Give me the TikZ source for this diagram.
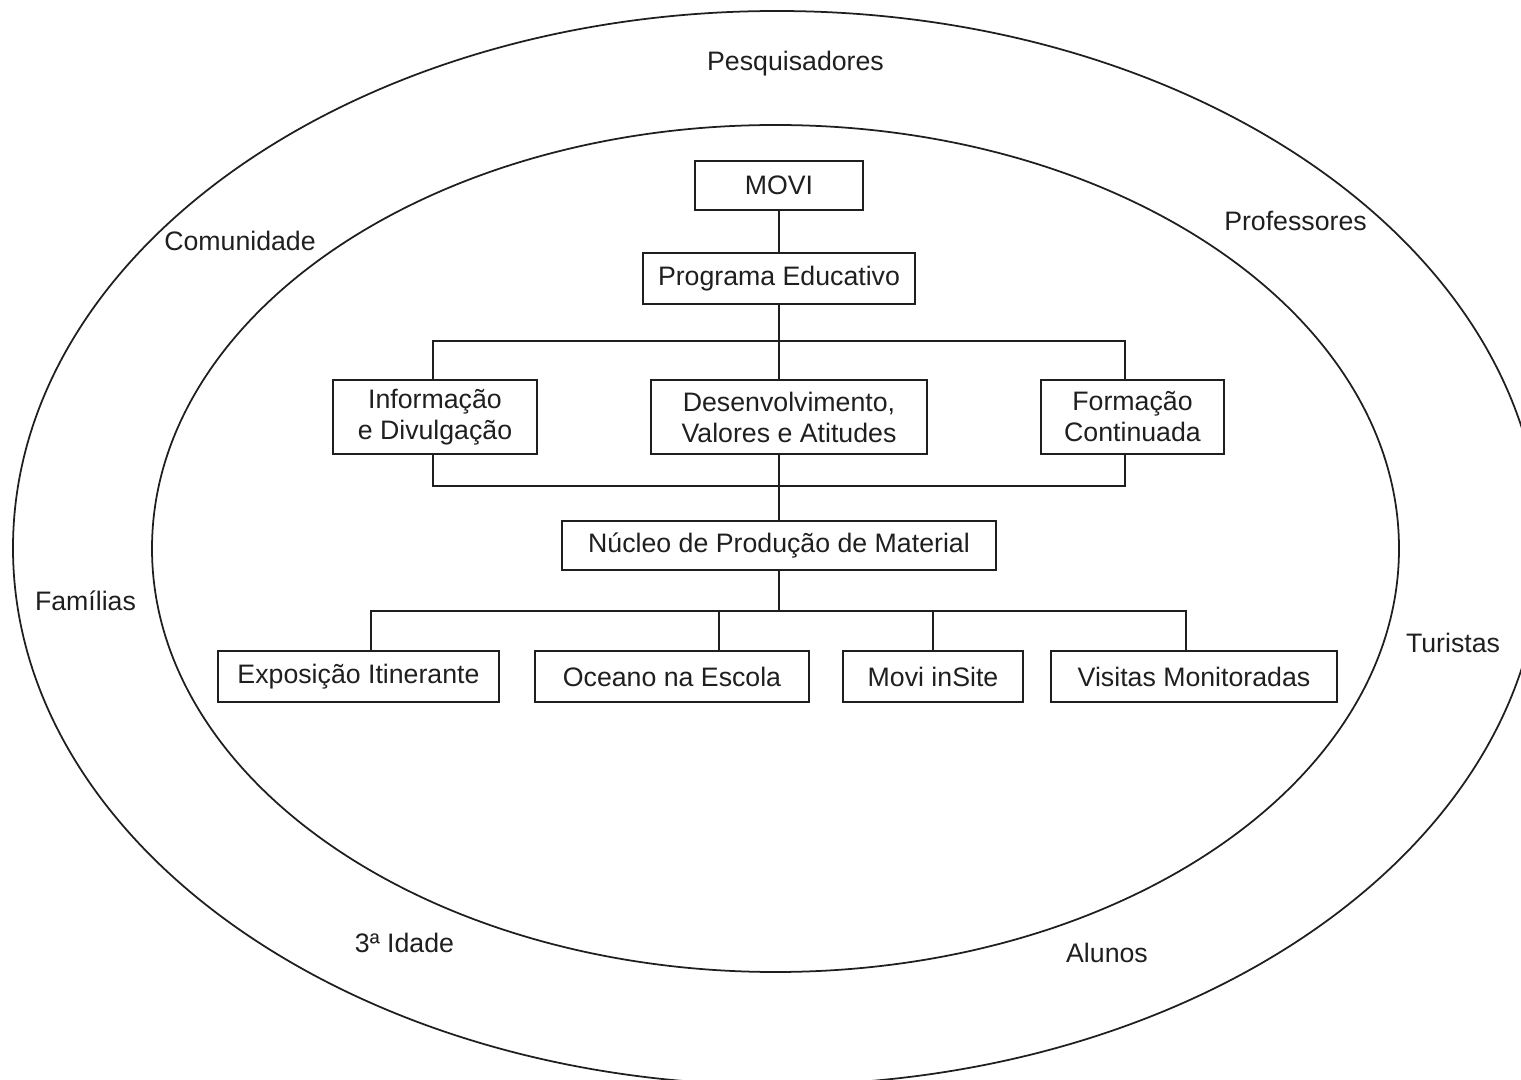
\documentclass[tikz,border=0pt]{standalone}
\usepackage{fontspec}
\setmainfont{Liberation Sans}
\usetikzlibrary{positioning}
\colorlet{penColor}{black!88}
\tikzset{
  caixa/.style={draw=penColor,line width=0.5pt,text=penColor,inner sep=0pt,align=center,
    font=\fontsize{7.6pt}{8.8pt}\selectfont},
  rotulo/.style={text=penColor,inner sep=0pt,font=\fontsize{7.6pt}{8.8pt}\selectfont},
  liga/.style={draw=penColor,line width=0.5pt}
}
\begin{document}
\begin{tikzpicture}
\useasboundingbox (0,0) rectangle (15.21,-10.80);
% circulos de publico
\draw[liga] (7.77,-5.48) ellipse (7.64 and 5.37);
\draw[liga] (7.755,-5.485) ellipse (6.235 and 4.235);

\node[rotulo] (pesq) at (7.955,-0.64) {Pesquisadores};
\node[rotulo] (comun) at (2.40,-2.41) {Comunidade};
\node[rotulo] (prof) at (12.955,-2.21) {Professores};
\node[rotulo] (famil) at (0.855,-6.01) {Famílias};
\node[rotulo] (turis) at (14.53,-6.43) {Turistas};
\node[rotulo] (idade) at (4.045,-9.43) {3ª Idade};
\node[rotulo] (aluno) at (11.07,-9.53) {Alunos};

% organograma
\node[caixa,minimum width=1.68cm,minimum height=0.49cm] (movi) at (7.79,-1.855) {MOVI};
\node[caixa,minimum width=2.72cm,minimum height=0.51cm] (prog) at (7.79,-2.785) {Programa Educativo};
\node[caixa,minimum width=2.04cm,minimum height=0.74cm] (info) at (4.35,-4.17) {Informação\\e Divulgação};
\node[caixa,minimum width=2.76cm,minimum height=0.74cm] (desenv) at (7.89,-4.17) {Desenvolvimento,\\Valores e Atitudes};
\node[caixa,minimum width=1.83cm,minimum height=0.74cm] (form) at (11.325,-4.17) {Formação\\Continuada};
\node[caixa,minimum width=4.34cm,minimum height=0.49cm] (nucleo) at (7.79,-5.455) {Núcleo de Produção de Material};
\node[caixa,minimum width=2.81cm,minimum height=0.51cm] (expo) at (3.585,-6.765) {Exposição Itinerante};
\node[caixa,minimum width=2.74cm,minimum height=0.51cm] (oceano) at (6.72,-6.765) {Oceano na Escola};
\node[caixa,minimum width=1.80cm,minimum height=0.51cm] (insite) at (9.33,-6.765) {Movi inSite};
\node[caixa,minimum width=2.86cm,minimum height=0.51cm] (visitas) at (11.94,-6.765) {Visitas Monitoradas};

\coordinate (busA) at (7.79,-3.41);
\coordinate (busB) at (7.79,-4.86);
\coordinate (busC) at (7.79,-6.11);

\draw[liga] (movi) -- (prog);
\draw[liga] (prog.south) -- (prog.south |- desenv.north);
\draw[liga] ([xshift=-0.02cm]info.north) |- (busA) -| ([xshift=-0.075cm]form.north);
\draw[liga] ([xshift=-0.02cm]info.south) |- (busB) -| ([xshift=-0.075cm]form.south);
\draw[liga] (nucleo.north |- desenv.south) -- (nucleo.north);
\draw[liga] (nucleo.south) -- (busC);
\draw[liga] ([xshift=0.125cm]expo.north) |- (busC) -| ([xshift=-0.083cm]visitas.north);
\draw[liga] ([xshift=0.47cm]oceano.north) -- ([xshift=0.47cm]oceano.north |- busC);
\draw[liga] (insite.north) -- (insite.north |- busC);
\end{tikzpicture}
\end{document}
